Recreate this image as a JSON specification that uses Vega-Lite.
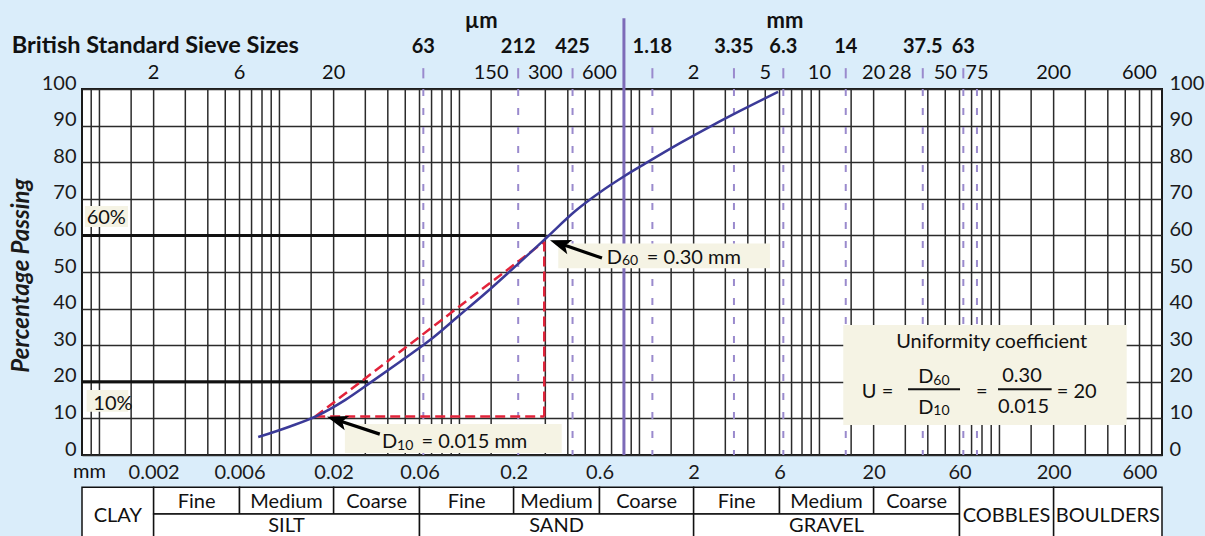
{
  "$schema": "https://vega.github.io/schema/vega-lite/v6.json",
  "width": 1080,
  "height": 366,
  "autosize": {"type": "none"},
  "padding": {"left": 82, "top": 89, "right": 43, "bottom": 81},
  "background": "#daedfa",
  "config": {
    "view": {"fill": "white", "stroke": "#1a1a1a", "strokeWidth": 2},
    "font": "Lato",
    "axis": {"labelFont": "Lato", "titleFont": "Lato"},
    "text": {"font": "Lato", "color": "#111111", "baseline": "alphabetic"}
  },
  "datasets": {
    "grid": [
      {"x": 0.0009}, {"x": 0.001}, {"x": 0.0015}, {"x": 0.002}, {"x": 0.003}, {"x": 0.004}, {"x": 0.005}, {"x": 0.006}, {"x": 0.007}, {"x": 0.008}, {"x": 0.009},
      {"x": 0.01}, {"x": 0.015}, {"x": 0.02}, {"x": 0.03}, {"x": 0.04}, {"x": 0.05}, {"x": 0.06}, {"x": 0.07}, {"x": 0.08}, {"x": 0.09},
      {"x": 0.1}, {"x": 0.15}, {"x": 0.3}, {"x": 0.4}, {"x": 0.5}, {"x": 0.6}, {"x": 0.7}, {"x": 0.9},
      {"x": 1}, {"x": 1.5}, {"x": 2}, {"x": 3}, {"x": 4}, {"x": 5}, {"x": 6}, {"x": 7}, {"x": 8}, {"x": 9},
      {"x": 10}, {"x": 15}, {"x": 20}, {"x": 30}, {"x": 40}, {"x": 50}, {"x": 60}, {"x": 70}, {"x": 80}, {"x": 90},
      {"x": 100}, {"x": 150}, {"x": 200}, {"x": 300}, {"x": 400}, {"x": 500}, {"x": 600}, {"x": 700}
    ],
    "sieves": [
      {"x": 0.063, "label": "63"}, {"x": 0.212, "label": "212"}, {"x": 0.425, "label": "425"},
      {"x": 1.18, "label": "1.18"}, {"x": 3.35, "label": "3.35"}, {"x": 6.3, "label": "6.3"},
      {"x": 14, "label": "14"}, {"x": 37.5, "label": "37.5"}, {"x": 63, "label": "63"}, {"x": 75, "label": ""}
    ],
    "toplabels": [
      {"x": 0.002, "text": "2"}, {"x": 0.006, "text": "6"}, {"x": 0.02, "text": "20"}, {"x": 0.15, "text": "150"},
      {"x": 0.3, "text": "300"}, {"x": 0.6, "text": "600"}, {"x": 2, "text": "2"}, {"x": 5, "text": "5"},
      {"x": 10, "text": "10"}, {"x": 20, "text": "20"}, {"x": 28, "text": "28"}, {"x": 50, "text": "50"},
      {"x": 75, "text": "75"}, {"x": 200, "text": "200"}, {"x": 600, "text": "600"}
    ],
    "headers": [{"x": 0.132, "y": 116.6, "text": "µm"}, {"x": 6.44, "y": 116.6, "text": "mm"}],
    "titleText": [{"x": 0.000326, "y": 109.75, "text": "British Standard Sieve Sizes"}],
    "thick": [{"x": 0.0008, "x2": 0.3, "y": 60}, {"x": 0.0008, "x2": 0.031, "y": 20}],
    "red": [
      {"x": 0.0158, "y": 10.5, "x2": 0.296, "y2": 10.5},
      {"x": 0.296, "y": 10.5, "x2": 0.296, "y2": 58.3},
      {"x": 0.0158, "y": 10.5, "x2": 0.296, "y2": 58.3}
    ],
    "curve": [
      {"x": 0.00762, "y": 4.9}, {"x": 0.01144, "y": 7.8}, {"x": 0.01617, "y": 10.7}, {"x": 0.02313, "y": 15.0},
      {"x": 0.03185, "y": 19.7}, {"x": 0.04676, "y": 25.5}, {"x": 0.06862, "y": 31.4}, {"x": 0.1007, "y": 38.3},
      {"x": 0.1478, "y": 45.3}, {"x": 0.217, "y": 52.7}, {"x": 0.3065, "y": 59.5}, {"x": 0.4385, "y": 66.6},
      {"x": 0.604, "y": 71.8}, {"x": 0.831, "y": 76.3}, {"x": 1.074, "y": 79.6}, {"x": 1.68, "y": 85.2},
      {"x": 2.53, "y": 90}, {"x": 3.62, "y": 94}, {"x": 5.89, "y": 99.2}
    ],
    "boxes": [
      {"x": 0.000831, "x2": 0.00144, "y": 62.3, "y2": 68.03},
      {"x": 0.000849, "x2": 0.001447, "y": 11.83, "y2": 17.76},
      {"x": 0.354, "x2": 5.31, "y": 51.0, "y2": 57.8},
      {"x": 0.0231, "x2": 0.37, "y": 0.55, "y2": 8.5},
      {"x": 13.56, "x2": 509, "y": 8.2, "y2": 35.5}
    ],
    "textLeft": [
      {"x": 0.000849, "y": 63.1, "text": "60%"},
      {"x": 0.000925, "y": 12.3, "text": "10%"},
      {"x": 0.658, "y": 52.2, "text": "D"},
      {"x": 1.097, "y": 52.2, "text": "= 0.30 mm"},
      {"x": 0.0371, "y": 1.9, "text": "D"},
      {"x": 0.0615, "y": 1.9, "text": "= 0.015 mm"},
      {"x": 17.2, "y": 15.5, "text": "U ="},
      {"x": 35.4, "y": 19.6, "text": "D"},
      {"x": 35.4, "y": 11.2, "text": "D"},
      {"x": 208, "y": 15.5, "text": "= 20"},
      {"x": 0.000713, "y": -6.37, "text": "mm"}
    ],
    "textCenter": [
      {"x": 79.7, "y": 15.5, "text": "="},
      {"x": 133.5, "y": 20.0, "text": "0.30"},
      {"x": 136, "y": 11.4, "text": "0.015"},
      {"x": 90.6, "y": 29.15, "text": "Uniformity coefficient"}
    ],
    "textSub": [
      {"x": 0.8, "y": 51.8, "text": "60"},
      {"x": 0.045, "y": 1.5, "text": "10"},
      {"x": 42.9, "y": 19.1, "text": "60"},
      {"x": 42.9, "y": 10.8, "text": "10"}
    ],
    "fractions": [{"x": 31.06, "x2": 60.4, "y": 17.95}, {"x": 98.2, "x2": 195, "y": 17.95}],
    "shafts": [
      {"x": 0.368, "y": 57.65, "x2": 0.619, "y2": 53.8},
      {"x": 0.02127, "y": 9.45, "x2": 0.0361, "y2": 5.7}
    ],
    "heads": [{"name": "D60", "x": 0.3185, "y": 58.7}, {"name": "D10", "x": 0.01837, "y": 10.46}],
    "cells": [
      {"x": 0.0008, "x2": 0.002, "y": -8.83, "y2": -25},
      {"x": 0.002, "x2": 0.006, "y": -8.83, "y2": -16.12},
      {"x": 0.006, "x2": 0.02, "y": -8.83, "y2": -16.12},
      {"x": 0.02, "x2": 0.06, "y": -8.83, "y2": -16.12},
      {"x": 0.06, "x2": 0.2, "y": -8.83, "y2": -16.12},
      {"x": 0.2, "x2": 0.6, "y": -8.83, "y2": -16.12},
      {"x": 0.6, "x2": 2, "y": -8.83, "y2": -16.12},
      {"x": 2, "x2": 6, "y": -8.83, "y2": -16.12},
      {"x": 6, "x2": 20, "y": -8.83, "y2": -16.12},
      {"x": 20, "x2": 60, "y": -8.83, "y2": -16.12},
      {"x": 0.002, "x2": 0.06, "y": -16.12, "y2": -25},
      {"x": 0.06, "x2": 2, "y": -16.12, "y2": -25},
      {"x": 2, "x2": 60, "y": -16.12, "y2": -25},
      {"x": 60, "x2": 200, "y": -8.83, "y2": -25},
      {"x": 200, "x2": 800, "y": -8.83, "y2": -25}
    ],
    "celltext": [
      {"x": 0.001265, "y": -18.2, "text": "CLAY"},
      {"x": 0.003464, "y": -14.56, "text": "Fine"},
      {"x": 0.010954, "y": -14.56, "text": "Medium"},
      {"x": 0.034641, "y": -14.56, "text": "Coarse"},
      {"x": 0.10954, "y": -14.56, "text": "Fine"},
      {"x": 0.34641, "y": -14.56, "text": "Medium"},
      {"x": 1.0954, "y": -14.56, "text": "Coarse"},
      {"x": 3.4641, "y": -14.56, "text": "Fine"},
      {"x": 10.954, "y": -14.56, "text": "Medium"},
      {"x": 34.641, "y": -14.56, "text": "Coarse"},
      {"x": 0.010954, "y": -21.0, "text": "SILT"},
      {"x": 0.34641, "y": -21.0, "text": "SAND"},
      {"x": 10.954, "y": -21.0, "text": "GRAVEL"},
      {"x": 109.54, "y": -18.2, "text": "COBBLES"},
      {"x": 400, "y": -18.2, "text": "BOULDERS"}
    ]
  },
  "encoding": {
    "x": {
      "field": "x", "type": "quantitative",
      "scale": {"type": "log", "domain": [0.0008, 800], "nice": false},
      "axis": {
        "orient": "bottom", "values": [0.002, 0.006, 0.02, 0.06, 0.2, 0.6, 2, 6, 20, 60, 200, 600],
        "format": "~g", "labelFontSize": 20, "labelColor": "#1a1a1a", "ticks": false, "tickSize": 0,
        "domain": false, "grid": false, "labelPadding": 23, "labelBaseline": "alphabetic",
        "labelFlush": false, "labelOverlap": false, "labelBound": false, "title": null
      }
    }
  },
  "layer": [
    {
      "data": {"name": "grid"},
      "mark": {"type": "rule", "color": "#2b2b2b", "strokeWidth": 1.5},
      "encoding": {
        "y": {"datum": 0, "type": "quantitative", "scale": {"domain": [0, 100], "nice": false, "zero": false}, "axis": null},
        "y2": {"datum": 100}
      }
    },
    {
      "data": {"name": "sieves"},
      "mark": {"type": "rule", "color": "#9a8acd", "strokeWidth": 2, "strokeDash": [7, 12]},
      "encoding": {
        "y": {"datum": 100, "type": "quantitative", "scale": {"domain": [0, 100], "nice": false, "zero": false}, "axis": null},
        "y2": {"datum": 0}
      }
    },
    {
      "data": {"name": "sieves"},
      "transform": [{"filter": "datum.label != ''"}],
      "mark": {"type": "rule", "color": "#9a8acd", "strokeWidth": 2},
      "encoding": {
        "y": {"datum": 102.9, "type": "quantitative", "scale": {"domain": [0, 100], "nice": false, "zero": false}, "axis": null},
        "y2": {"datum": 105.7}
      }
    },
    {
      "data": {"name": "sieves"},
      "transform": [{"filter": "datum.label != ''"}],
      "mark": {"type": "text", "fontSize": 20, "fontWeight": "bold", "align": "center"},
      "encoding": {
        "y": {"datum": 109.75, "type": "quantitative", "scale": {"domain": [0, 100], "nice": false, "zero": false}, "axis": null},
        "text": {"field": "label"}
      }
    },
    {
      "data": {"values": [{"x": 0.82}]},
      "mark": {"type": "rule", "color": "#7d6bb8", "strokeWidth": 3},
      "encoding": {
        "y": {"datum": 0, "type": "quantitative", "scale": {"domain": [0, 100], "nice": false, "zero": false}, "axis": null},
        "y2": {"datum": 119.3}
      }
    },
    {
      "data": {"name": "thick"},
      "mark": {"type": "rule", "color": "#111111", "strokeWidth": 3},
      "encoding": {
        "y": {"field": "y", "type": "quantitative", "scale": {"domain": [0, 100], "nice": false, "zero": false}, "axis": null},
        "x2": {"field": "x2"}
      }
    },
    {
      "data": {"name": "red"},
      "mark": {"type": "rule", "color": "#e2233a", "strokeWidth": 2.5, "strokeDash": [10, 5]},
      "encoding": {
        "y": {
          "field": "y", "type": "quantitative", "scale": {"domain": [0, 100], "nice": false, "zero": false},
          "axis": {
            "orient": "right", "values": [0, 10, 20, 30, 40, 50, 60, 70, 80, 90, 100], "grid": false,
            "ticks": false, "tickSize": 0, "domain": false, "labelFontSize": 20, "labelColor": "#1a1a1a",
            "labelPadding": 7, "labelBaseline": "alphabetic", "labelFlush": false, "labelOverlap": false, "title": null
          }
        },
        "x2": {"field": "x2"},
        "y2": {"field": "y2"}
      }
    },
    {
      "data": {"name": "curve"},
      "mark": {"type": "line", "color": "#3b3a98", "strokeWidth": 2.5, "interpolate": "monotone"},
      "encoding": {
        "y": {
          "field": "y", "type": "quantitative", "scale": {"domain": [0, 100], "nice": false, "zero": false},
          "axis": {
            "orient": "left", "values": [0, 10, 20, 30, 40, 50, 60, 70, 80, 90, 100], "grid": true,
            "gridColor": "#2b2b2b", "gridWidth": 1.5, "gridOpacity": 1,
            "ticks": false, "tickSize": 0, "domain": false, "labelFontSize": 20, "labelColor": "#1a1a1a",
            "labelPadding": 6, "labelBaseline": "alphabetic", "labelFlush": false, "labelOverlap": false,
            "title": "Percentage Passing", "titleFontSize": 24, "titleFontWeight": "bold", "titleFontStyle": "italic",
            "titleColor": "#1a1a1a", "titleAngle": 270, "titleX": -61, "titleY": 186,
            "titleAlign": "center", "titleBaseline": "middle"
          }
        }
      }
    },
    {
      "data": {"name": "boxes"},
      "mark": {"type": "rect", "fill": "#f5f3e4"},
      "encoding": {
        "y": {"field": "y", "type": "quantitative", "scale": {"domain": [0, 100], "nice": false, "zero": false}, "axis": null},
        "x2": {"field": "x2"}, "y2": {"field": "y2"}
      }
    },
    {
      "data": {"name": "textLeft"},
      "mark": {"type": "text", "fontSize": 20, "align": "left"},
      "encoding": {
        "y": {"field": "y", "type": "quantitative", "scale": {"domain": [0, 100], "nice": false, "zero": false}, "axis": null},
        "text": {"field": "text"}
      }
    },
    {
      "data": {"name": "textCenter"},
      "mark": {"type": "text", "fontSize": 20, "align": "center"},
      "encoding": {
        "y": {"field": "y", "type": "quantitative", "scale": {"domain": [0, 100], "nice": false, "zero": false}, "axis": null},
        "text": {"field": "text"}
      }
    },
    {
      "data": {"name": "textSub"},
      "mark": {"type": "text", "fontSize": 14, "align": "left"},
      "encoding": {
        "y": {"field": "y", "type": "quantitative", "scale": {"domain": [0, 100], "nice": false, "zero": false}, "axis": null},
        "text": {"field": "text"}
      }
    },
    {
      "data": {"name": "titleText"},
      "mark": {"type": "text", "fontSize": 23.5, "fontWeight": "bold", "align": "left"},
      "encoding": {
        "y": {"field": "y", "type": "quantitative", "scale": {"domain": [0, 100], "nice": false, "zero": false}, "axis": null},
        "text": {"field": "text"}
      }
    },
    {
      "data": {"name": "headers"},
      "mark": {"type": "text", "fontSize": 22, "fontWeight": "bold", "align": "center"},
      "encoding": {
        "y": {"field": "y", "type": "quantitative", "scale": {"domain": [0, 100], "nice": false, "zero": false}, "axis": null},
        "text": {"field": "text"}
      }
    },
    {
      "data": {"name": "toplabels"},
      "mark": {"type": "text", "fontSize": 20, "align": "center"},
      "encoding": {
        "y": {"datum": 102.65, "type": "quantitative", "scale": {"domain": [0, 100], "nice": false, "zero": false}, "axis": null},
        "text": {"field": "text"}
      }
    },
    {
      "data": {"name": "fractions"},
      "mark": {"type": "rule", "color": "#111111", "strokeWidth": 2},
      "encoding": {
        "y": {"field": "y", "type": "quantitative", "scale": {"domain": [0, 100], "nice": false, "zero": false}, "axis": null},
        "x2": {"field": "x2"}
      }
    },
    {
      "data": {"name": "shafts"},
      "mark": {"type": "rule", "color": "#000000", "strokeWidth": 3.2},
      "encoding": {
        "y": {"field": "y", "type": "quantitative", "scale": {"domain": [0, 100], "nice": false, "zero": false}, "axis": null},
        "x2": {"field": "x2"}, "y2": {"field": "y2"}
      }
    },
    {
      "data": {"name": "heads"},
      "transform": [{"filter": "datum.name == 'D60'"}],
      "mark": {"type": "point", "shape": "M0,0L2.1,-0.75L1.6,0L2.1,0.75Z", "size": 400, "angle": 19.5, "filled": true, "color": "#000000", "opacity": 1, "strokeWidth": 0},
      "encoding": {
        "y": {"field": "y", "type": "quantitative", "scale": {"domain": [0, 100], "nice": false, "zero": false}, "axis": null}
      }
    },
    {
      "data": {"name": "heads"},
      "transform": [{"filter": "datum.name == 'D10'"}],
      "mark": {"type": "point", "shape": "M0,0L2.1,-0.75L1.6,0L2.1,0.75Z", "size": 400, "angle": 17.7, "filled": true, "color": "#000000", "opacity": 1, "strokeWidth": 0},
      "encoding": {
        "y": {"field": "y", "type": "quantitative", "scale": {"domain": [0, 100], "nice": false, "zero": false}, "axis": null}
      }
    },
    {
      "data": {"name": "cells"},
      "mark": {"type": "rect", "fill": "white", "stroke": "#111111", "strokeWidth": 1.5},
      "encoding": {
        "y": {"field": "y", "type": "quantitative", "scale": {"domain": [0, 100], "nice": false, "zero": false}, "axis": null},
        "x2": {"field": "x2"}, "y2": {"field": "y2"}
      }
    },
    {
      "data": {"name": "celltext"},
      "mark": {"type": "text", "fontSize": 20, "align": "center"},
      "encoding": {
        "y": {"field": "y", "type": "quantitative", "scale": {"domain": [0, 100], "nice": false, "zero": false}, "axis": null},
        "text": {"field": "text"}
      }
    }
  ],
  "resolve": {"axis": {"y": "independent"}}
}
